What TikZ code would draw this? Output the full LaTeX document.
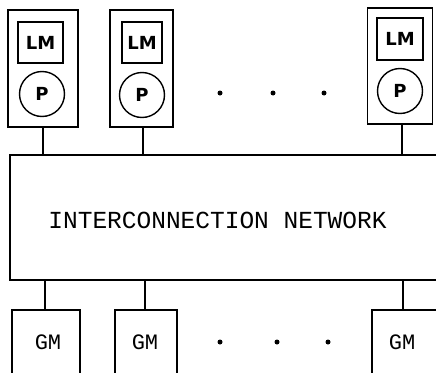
\documentclass[tikz,border=0pt]{standalone}
\usepackage{fontspec}
\setmonofont{Liberation Mono}
\newfontfamily\plotfont{Liberation Mono}
\newfontfamily\boldplot{DejaVu Sans}
\begin{document}
\begin{tikzpicture}[x=1pt,y=-1pt,line width=1.4pt,
  box/.style={draw,rectangle,inner sep=0pt,outer sep=0pt},
  lmbox/.style={draw,rectangle,inner sep=0pt,outer sep=0pt,font=\boldplot\bfseries\fontsize{18}{18}\selectfont},
  pcirc/.style={draw,circle,inner sep=0pt,outer sep=0pt,minimum size=45pt,font=\boldplot\bfseries\fontsize{18}{18}\selectfont},
  lbl/.style={font=\plotfont\fontsize{24.5}{24.5}\selectfont},
  gmlbl/.style={font=\plotfont\fontsize{22}{22}\selectfont},
  dot/.style={fill,circle,inner sep=0pt,minimum size=5pt}]
\useasboundingbox (0,0) rectangle (436,372);
\clip (0,0) rectangle (436,372);
% processing elements
\node[box,minimum width=70pt,minimum height=117pt] (pe1) at (43,68.5) {};
\node[box,minimum width=63pt,minimum height=117pt] (pe2) at (141.5,68.5) {};
\node[box,minimum width=65pt,minimum height=116pt] (pe3) at (400,66) {};
\node[lmbox,minimum width=45pt,minimum height=41pt] (lm1) at (40.5,42.5) {LM};
\node[lmbox,minimum width=40pt,minimum height=41pt] (lm2) at (142,42.5) {LM};
\node[lmbox,minimum width=46pt,minimum height=42pt] (lm3) at (400,39) {LM};
\node[pcirc] (p1) at (42,94) {P};
\node[pcirc] (p2) at (142,95) {P};
\node[pcirc] (p3) at (400,91) {P};
\node[dot] (d1) at (220,93) {};
\node[dot] (d2) at (273,93) {};
\node[dot] (d3) at (324,93) {};
% network
\node[box,minimum width=430pt,minimum height=125pt] (net) at (225,217.5) {};
\node[lbl] (nettext) at (217.5,220) {INTERCONNECTION NETWORK};
% global memories
\node[box,minimum width=68pt,minimum height=80pt] (gm1) at (46,350) {};
\node[box,minimum width=62pt,minimum height=80pt] (gm2) at (146,350) {};
\node[box,minimum width=72pt,minimum height=80pt] (gm3) at (408,350) {};
\node[gmlbl] (gt1) at (48,342) {GM};
\node[gmlbl] (gt2) at (145,342) {GM};
\node[gmlbl] (gt3) at (402,342) {GM};
\node[dot] (e1) at (220,342) {};
\node[dot] (e2) at (277,342) {};
\node[dot] (e3) at (328,342) {};
% connectors
\coordinate (c1) at (43,127);
\coordinate (c2) at (143,127);
\coordinate (c3) at (402,124);
\draw (c1) -- (c1 |- net.north);
\draw (c2) -- (c2 |- net.north);
\draw (c3) -- (c3 |- net.north);
\coordinate (g1) at (45,310);
\coordinate (g2) at (145,310);
\coordinate (g3) at (403,310);
\draw (g1) -- (g1 |- net.south);
\draw (g2) -- (g2 |- net.south);
\draw (g3) -- (g3 |- net.south);
\end{tikzpicture}
\end{document}
